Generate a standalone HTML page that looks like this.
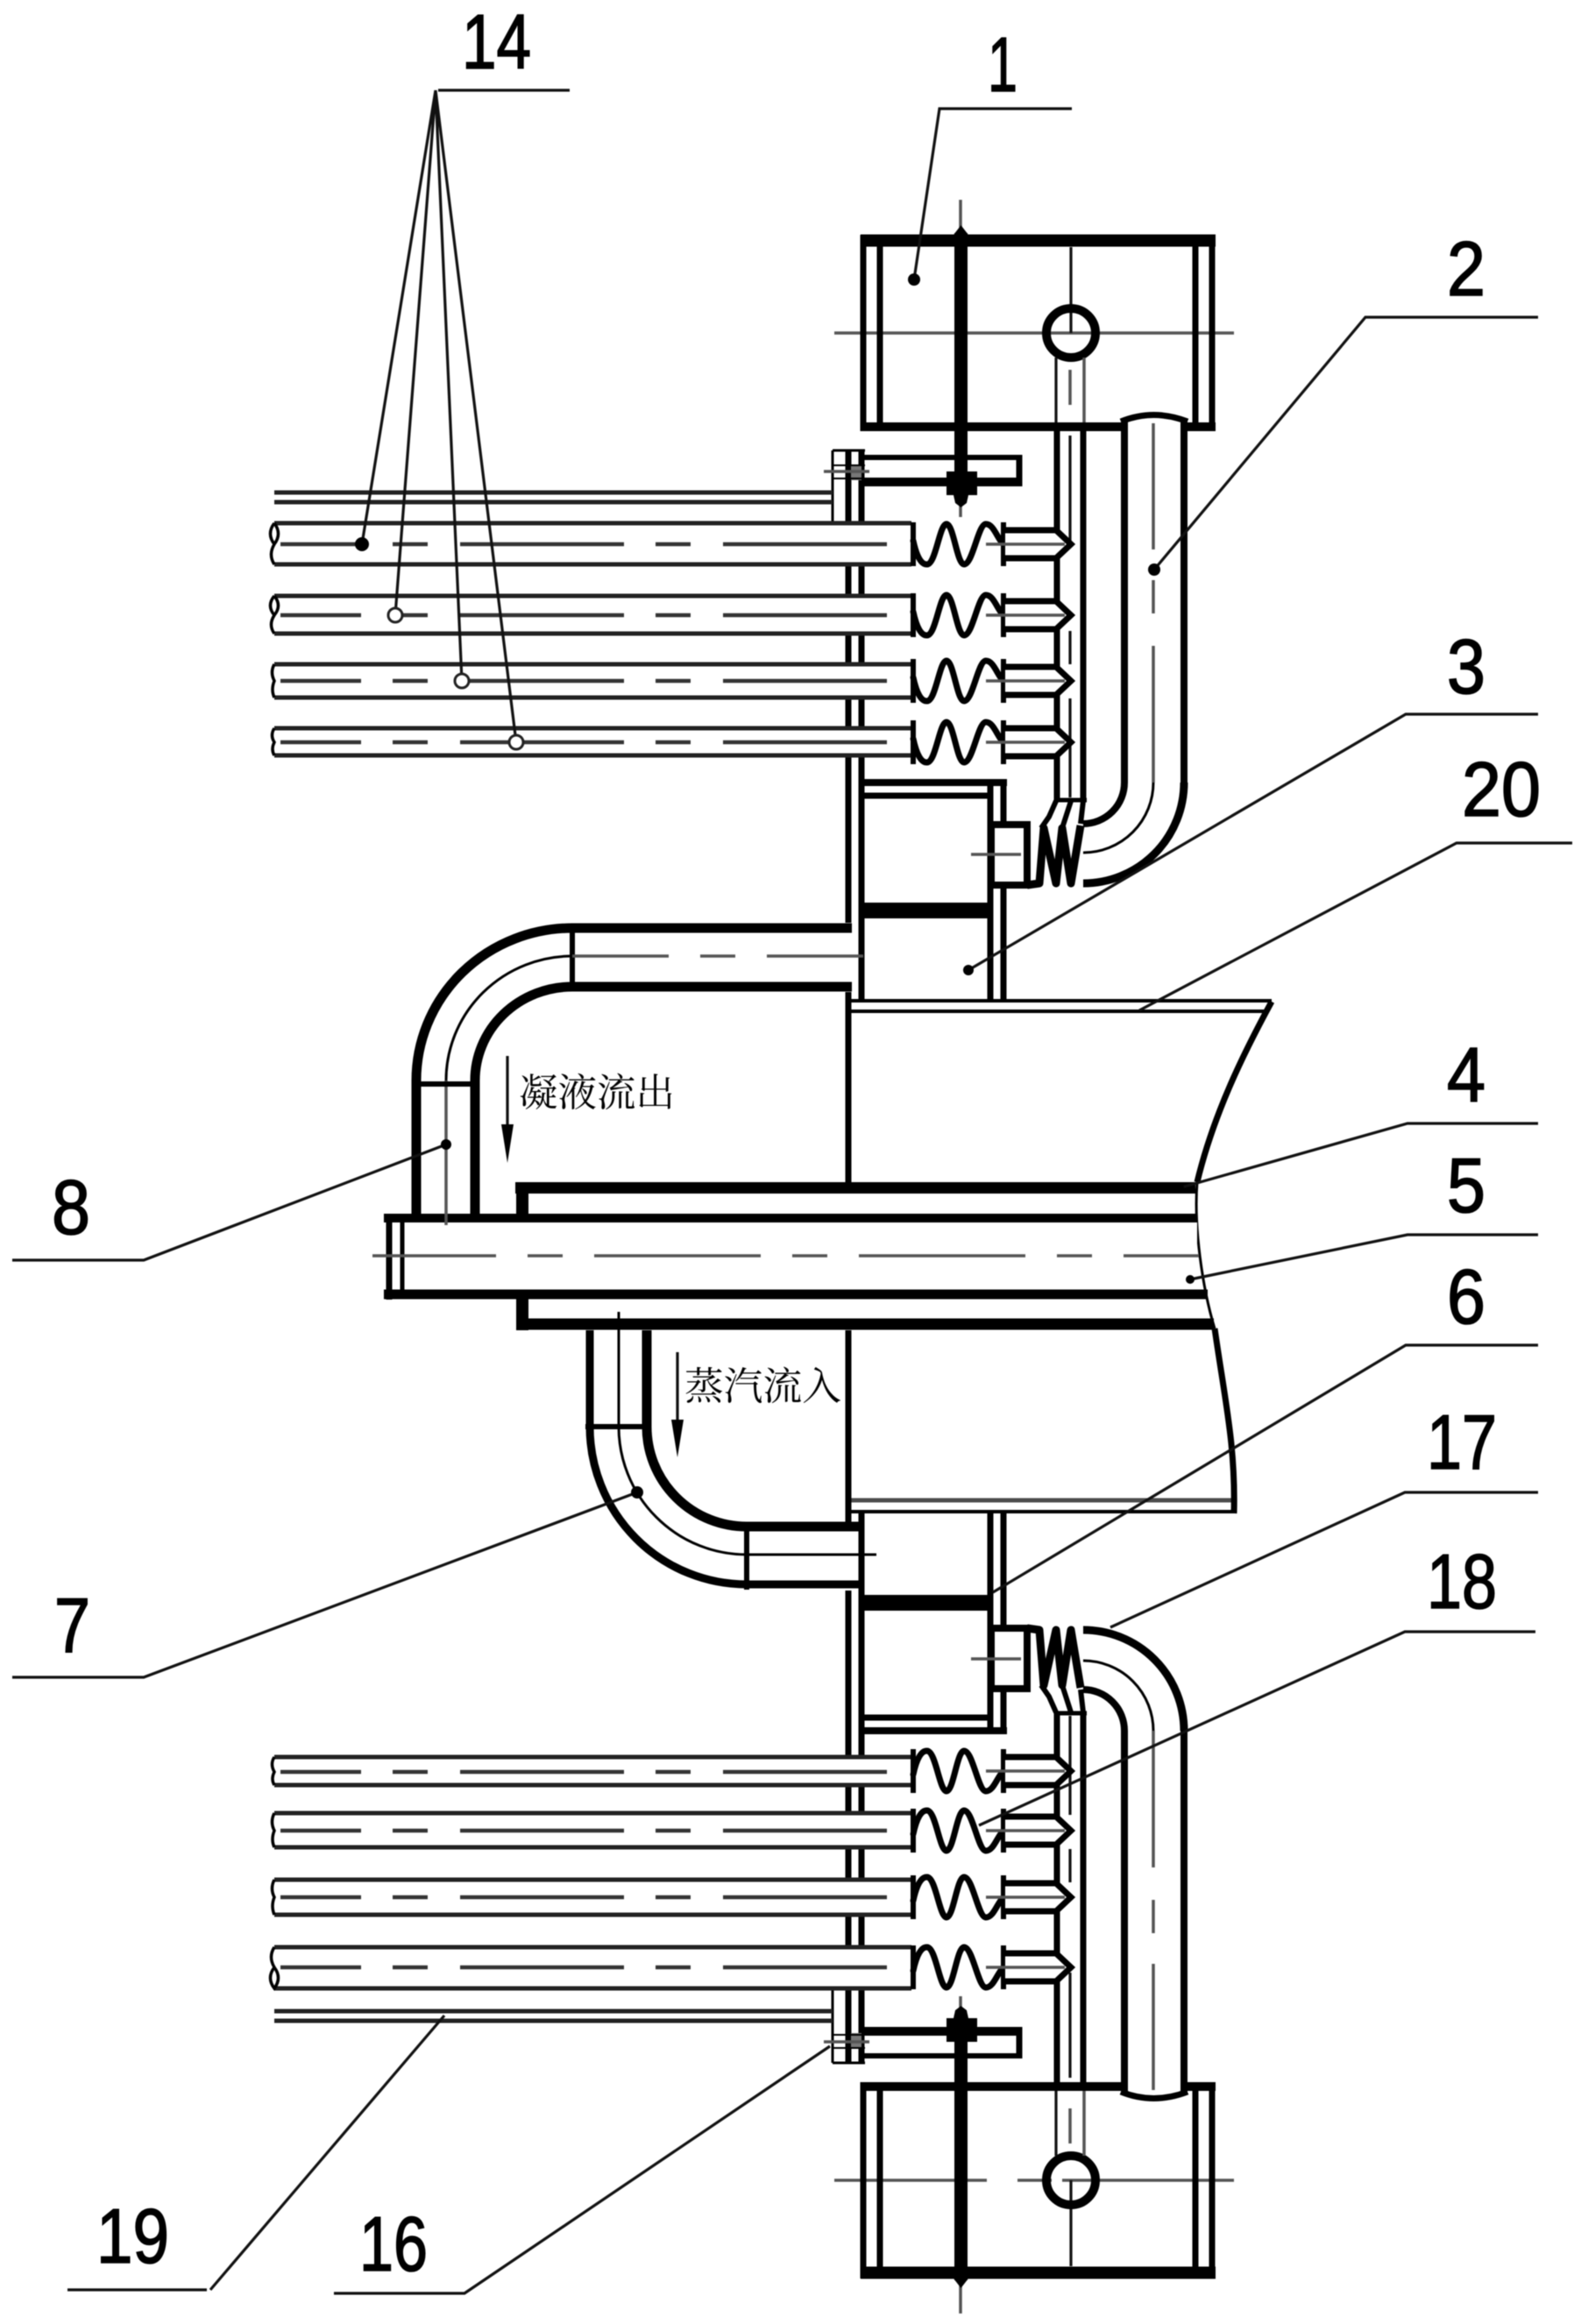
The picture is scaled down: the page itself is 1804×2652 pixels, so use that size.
<!DOCTYPE html>
<html lang="zh"><head><meta charset="utf-8"><style>
html,body{margin:0;padding:0;background:#fff}
svg{display:block}
.k{stroke:#000;fill:none}
.g{stroke:#555;stroke-width:3.5;fill:none}
.l{stroke:#111;stroke-width:3.2;fill:none}
.d{font-family:"Liberation Sans",sans-serif;fill:#000;stroke:#000;stroke-width:1.6}
.c{font-family:"Liberation Serif","Noto Serif CJK SC",serif;font-size:44px;fill:#000}
.tl{stroke:#222;stroke-width:5}
.cl{stroke:#333;stroke-width:4.5;stroke-dasharray:187 36 40 37;stroke-dashoffset:95}
</style></head><body>
<svg width="1804" height="2652" viewBox="0 0 1804 2652" xmlns="http://www.w3.org/2000/svg">
<rect width="1804" height="2652" fill="#fff"/>
<defs>
<g id="half">
  <!-- block -->
  <line class="g" x1="952" y1="380" x2="1408" y2="380"/>
  <line class="k" stroke-width="14" x1="982" y1="274.500" x2="1387" y2="274.500"/>
  <line class="k" stroke-width="10" x1="982" y1="487" x2="1387" y2="487"/>
  <line class="k" stroke-width="7" x1="985" y1="268" x2="985" y2="492"/>
  <line class="k" stroke-width="7" x1="1004" y1="275" x2="1004" y2="487"/>
  <line class="k" stroke-width="7" x1="1364" y1="275" x2="1364" y2="487"/>
  <line class="k" stroke-width="7" x1="1383" y1="268" x2="1383" y2="492"/>
  <line class="l" x1="1222" y1="282" x2="1222" y2="380"/>
  <circle class="k" stroke-width="10" cx="1222" cy="380" r="28"/>
  <line class="l" x1="1205" y1="408" x2="1205" y2="482"/>
  <line class="g" x1="1237" y1="408" x2="1237" y2="482"/>
  <line class="g" x1="1221" y1="422" x2="1221" y2="462"/>
  <!-- bolt -->
  <line class="g" x1="1096" y1="228" x2="1096" y2="260"/>
  <line class="g" x1="1096" y1="575" x2="1096" y2="590"/>
  <line class="k" stroke-width="15" x1="1096.500" y1="266" x2="1096.500" y2="560"/>
  <polygon points="1088,268 1096.500,257 1105,268" fill="#000"/>
  <!-- thin plate and upper lines -->
  <line class="k" stroke-width="3" x1="950" y1="514" x2="950" y2="600"/>
  <line class="k" stroke-width="3" x1="950" y1="514" x2="987" y2="514"/>
  <line class="k" stroke-width="7" x1="968" y1="514" x2="968" y2="1053"/>
  <line class="k" stroke-width="7" x1="983" y1="514" x2="983" y2="1142"/>
  <rect x="971" y="530" width="12" height="18" fill="#777"/>
  <line class="k" stroke-width="2" x1="950" y1="531" x2="987" y2="531"/>
  <line class="k" stroke-width="2" x1="950" y1="546" x2="987" y2="546"/>
  <line class="g" x1="940" y1="538" x2="992" y2="538"/>
  <line class="tl" x1="313" y1="562" x2="950" y2="562"/>
  <line class="tl" x1="313" y1="573" x2="950" y2="573"/>
  <!-- bracket -->
  <line class="k" stroke-width="6" x1="985" y1="522" x2="1166" y2="522"/>
  <line class="k" stroke-width="10" x1="985" y1="550" x2="1166" y2="550"/>
  <line class="k" stroke-width="7" x1="1163" y1="519" x2="1163" y2="555"/>
  <rect x="1080" y="538" width="35" height="27" fill="#000"/>
  <polygon points="1088,565 1105,565 1103,574 1096.500,579 1090,574" fill="#000"/>
  <!-- steam pipe pair -->
  <line class="k" stroke-width="7" x1="1206" y1="490" x2="1206" y2="915"/>
  <line class="k" stroke-width="7" x1="1236" y1="490" x2="1236" y2="915"/>
  <line class="k" stroke-width="5" x1="1203" y1="913" x2="1240" y2="913"/>
  <line class="l" x1="1221" y1="497" x2="1221" y2="617"/>
  <line class="l" x1="1221" y1="720" x2="1221" y2="758"/>
  <line class="l" x1="1221" y1="797" x2="1221" y2="910"/>
  <!-- pipe 2 -->
  <path d="M1279 481 Q1316 466 1355 481 L1351 500 H1283 Z" fill="#fff" stroke="none"/>
  <path class="k" stroke-width="7" d="M1279 481 Q1316 466 1355 481"/>
  <line class="k" stroke-width="8" x1="1283" y1="478" x2="1283" y2="893"/>
  <line class="k" stroke-width="8" x1="1351" y1="478" x2="1351" y2="893"/>
  <path class="k" stroke-width="9" d="M1351 893 A115 115 0 0 1 1236 1008"/>
  <path class="k" stroke-width="8" d="M1283 893 A47 47 0 0 1 1236 940"/>
  <path class="k" stroke-width="3" d="M1316 893 A80 80 0 0 1 1236 973"/>
  <line class="g" x1="1316" y1="483" x2="1316" y2="627"/>
  <line class="g" x1="1316" y1="662" x2="1316" y2="700"/>
  <line class="g" x1="1316" y1="737" x2="1316" y2="893"/>
  <!-- box -->
  <line class="k" stroke-width="8" x1="983" y1="893" x2="1149" y2="893"/>
  <line class="k" stroke-width="7" x1="983" y1="908" x2="1131" y2="908"/>
  <line class="k" stroke-width="7" x1="1130" y1="893" x2="1130" y2="1143"/>
  <line class="k" stroke-width="7" x1="1145" y1="893" x2="1145" y2="1143"/>
  <rect x="983" y="1030" width="148" height="18" fill="#000"/>
  <!-- small nut -->
  <rect x="1131" y="941" width="41" height="69" fill="#fff" stroke="#000" stroke-width="8"/>
  <line class="g" x1="1108" y1="975" x2="1165" y2="975"/>
  <!-- small bellows -->
  <path class="k" stroke-width="9" stroke-linejoin="round" d="M1172 1010 L1186 1008 L1191 945 L1205 1008 L1212 945 L1222 1008 L1233 942"/>
  <path class="k" stroke-width="6" d="M1205 914 L1197 932 L1188 945 M1222 914 L1212 945 M1236 914 L1233 940"/>
</g>
<g id="bel">
  <path class="k" stroke-width="7" stroke-linecap="round" d="M1042 -4 Q1048 24 1058 23 C1068 22 1072 -23 1080 -23 C1088 -23 1092 23 1100 23 C1110 23 1116 -23 1125 -23 C1134 -23 1138 -6 1145 0"/>
  <line class="k" stroke-width="6" x1="1042" y1="-25" x2="1042" y2="25"/>
  <line class="k" stroke-width="6" x1="1145" y1="-25" x2="1145" y2="25"/>
  <path d="M1147 -16 H1205 L1222 0 L1205 16 H1147" fill="#fff" stroke="#000" stroke-width="7"/>
  <line class="g" x1="1125" y1="0" x2="1215" y2="0"/>
</g>
</defs>

<g style="filter:blur(.6px)">
<use href="#half"/>
<use href="#half" transform="matrix(1 0 0 -1 0 2868)"/>
<line x1="1126" y1="2487" x2="1161" y2="2487" stroke="#fff" stroke-width="6"/>
<line x1="1200" y1="2487" x2="1212" y2="2487" stroke="#fff" stroke-width="6"/>

<!-- shell -->
<line class="k" stroke-width="7" x1="968" y1="1132" x2="968" y2="1349"/>
<line class="k" stroke-width="7" x1="968" y1="1518" x2="968" y2="1742"/>
<line class="k" stroke-width="4" x1="968" y1="1142" x2="1451" y2="1142"/>
<line class="k" stroke-width="4" x1="968" y1="1154" x2="1445" y2="1154"/>
<line class="k" stroke-width="5" stroke-opacity=".7" x1="968" y1="1712" x2="1408" y2="1712"/>
<line class="k" stroke-width="4" x1="968" y1="1725" x2="1408" y2="1725"/>
<path class="k" stroke-width="7" d="M1451 1143 C1420 1200 1385 1270 1366 1349"/>
<path class="k" stroke-width="3" d="M1366 1349 C1362 1400 1372 1470 1386 1516"/>
<path class="k" stroke-width="7" d="M1386 1516 C1398 1600 1410 1650 1408 1727"/>

<!-- central tubes -->
<line class="k" stroke-width="13" x1="588" y1="1355.500" x2="1364" y2="1355.500"/>
<line class="k" stroke-width="14" x1="596" y1="1349" x2="596" y2="1395"/>
<line class="k" stroke-width="14" x1="596" y1="1477" x2="596" y2="1518"/>
<line class="k" stroke-width="13" x1="589" y1="1511" x2="1385" y2="1511"/>
<rect x="441" y="1385" width="925" height="97" fill="#fff"/>
<line class="k" stroke-width="10" x1="438" y1="1390" x2="1366" y2="1390"/>
<line class="k" stroke-width="11" x1="438" y1="1477" x2="1378" y2="1477"/>
<line class="k" stroke-width="7" x1="444" y1="1385" x2="444" y2="1483"/>
<line class="k" stroke-width="5" x1="459" y1="1390" x2="459" y2="1477"/>
<line class="g" x1="425" y1="1433" x2="1368" y2="1433" style="stroke-dasharray:190 36 40 36;stroke-dashoffset:49"/>

<!-- pipe 8 -->
<rect x="653" y="1059" width="315" height="67" fill="#fff"/>
<path class="k" stroke-width="11" d="M653 1059 H972"/>
<path class="k" stroke-width="11" d="M653 1126 H972"/>
<line class="k" stroke-width="6" x1="653" y1="1054" x2="653" y2="1131"/>
<line class="g" x1="653" y1="1091" x2="995" y2="1091" style="stroke-dasharray:110 36 40 36 110"/>
<path class="k" stroke-width="11" d="M653 1059 A178 174 0 0 0 475 1233 V1392"/>
<path class="k" stroke-width="11" d="M653 1126 A111 107 0 0 0 542 1233 V1392"/>
<path class="k" stroke-width="3" d="M653 1091 A144 142 0 0 0 509 1233"/>
<line class="g" x1="509" y1="1233" x2="509" y2="1398"/>
<line class="k" stroke-width="6" x1="475" y1="1237" x2="542" y2="1237"/>
<line class="l" x1="579" y1="1205" x2="579" y2="1290"/>
<polygon points="572,1283 586,1283 579,1327" fill="#000"/>
<text class="c" x="592" y="1262" textLength="178" lengthAdjust="spacingAndGlyphs">凝液流出</text>

<!-- pipe 7 -->
<path class="k" stroke-width="9" d="M673 1518 V1628 A179 180 0 0 0 852 1808 H985"/>
<path class="k" stroke-width="11" d="M738 1518 V1628 A114 114 0 0 0 852 1742 H985"/>
<path class="k" stroke-width="3" d="M706 1497 V1628 A146 146 0 0 0 852 1774 H1000"/>
<line class="k" stroke-width="6" x1="668" y1="1628" x2="743" y2="1628"/>
<line class="k" stroke-width="6" x1="852" y1="1738" x2="852" y2="1814"/>
<line class="k" stroke-width="6" x1="983" y1="1724" x2="983" y2="1815"/>
<line class="l" x1="773" y1="1543" x2="773" y2="1625"/>
<polygon points="766,1620 780,1620 773,1663" fill="#000"/>
<text class="c" x="781" y="1597" textLength="179" lengthAdjust="spacingAndGlyphs">蒸汽流入</text>

<!-- tube rows -->
<g fill="#fff">
<rect x="313" y="597" width="727" height="47"/><rect x="313" y="680" width="727" height="43"/>
<rect x="313" y="758" width="727" height="38"/><rect x="313" y="831" width="727" height="31"/>
<rect x="313" y="2005" width="727" height="32"/><rect x="313" y="2069" width="727" height="39"/>
<rect x="313" y="2145" width="727" height="40"/><rect x="313" y="2222" width="727" height="47"/>
</g>
<g class="tl">
<line x1="313" y1="597" x2="1040" y2="597"/><line x1="313" y1="644" x2="1040" y2="644"/>
<line x1="313" y1="680" x2="1040" y2="680"/><line x1="313" y1="723" x2="1040" y2="723"/>
<line x1="313" y1="758" x2="1040" y2="758"/><line x1="313" y1="796" x2="1040" y2="796"/>
<line x1="313" y1="831" x2="1040" y2="831"/><line x1="313" y1="862" x2="1040" y2="862"/>
<line x1="313" y1="2005" x2="1040" y2="2005"/><line x1="313" y1="2037" x2="1040" y2="2037"/>
<line x1="313" y1="2069" x2="1040" y2="2069"/><line x1="313" y1="2108" x2="1040" y2="2108"/>
<line x1="313" y1="2145" x2="1040" y2="2145"/><line x1="313" y1="2185" x2="1040" y2="2185"/>
<line x1="313" y1="2222" x2="1040" y2="2222"/><line x1="313" y1="2269" x2="1040" y2="2269"/>
</g>
<g class="cl">
<line x1="320" y1="621" x2="1012" y2="621"/><line x1="320" y1="702" x2="1012" y2="702"/>
<line x1="320" y1="777" x2="1012" y2="777"/><line x1="320" y1="847" x2="1012" y2="847"/>
<line x1="320" y1="2022" x2="1012" y2="2022"/><line x1="320" y1="2089" x2="1012" y2="2089"/>
<line x1="320" y1="2165" x2="1012" y2="2165"/><line x1="320" y1="2245" x2="1012" y2="2245"/>
</g>
<!-- broken ends -->
<g class="k" stroke-width="3.500">
<path d="M313 597 Q304 609 313 621 Q322 609 313 597 M313 621 Q306 633 313 644"/>
<path d="M313 680 Q304 691 313 702 Q322 691 313 680 M313 702 Q306 713 313 723"/>
<path d="M313 758 Q308 767 313 777 Q309 787 313 796"/>
<path d="M313 831 Q308 839 313 847 Q309 855 313 862"/>
<path d="M313 2005 Q308 2013 313 2022 Q309 2030 313 2037"/>
<path d="M313 2069 Q308 2079 313 2089 Q309 2099 313 2108"/>
<path d="M313 2145 Q308 2155 313 2165 Q309 2175 313 2185"/>
<path d="M313 2222 Q306 2233 313 2245 Q304 2257 313 2269 Q322 2257 313 2245"/>
</g>
<!-- bellows and fittings -->
<use href="#bel" transform="translate(0 621)"/>
<use href="#bel" transform="translate(0 702)"/>
<use href="#bel" transform="translate(0 777)"/>
<use href="#bel" transform="translate(0 847)"/>
<use href="#bel" transform="matrix(1 0 0 -1 0 2021)"/>
<use href="#bel" transform="matrix(1 0 0 -1 0 2089)"/>
<use href="#bel" transform="matrix(1 0 0 -1 0 2165)"/>
<use href="#bel" transform="matrix(1 0 0 -1 0 2245)"/>

<!-- leaders -->
<g class="l">
<path d="M500 103 H650"/>
<path d="M497 103 L413 621 M497 103 L451 702 M497 103 L527 777 M497 103 L589 847"/>
<path d="M1223 124 H1072 L1043 319"/>
<path d="M1755 362 H1558 L1317 650"/>
<path d="M1755 815 H1604 L1105 1107"/>
<path d="M1794 962 H1662 L1300 1153"/>
<path d="M1755 1282 H1606 L1348 1355"/>
<path d="M1755 1409 H1606 L1358 1460"/>
<path d="M1755 1535 H1604 L1133 1817"/>
<path d="M1755 1703 H1603 L1267 1857"/>
<path d="M1752 1862 H1603 L1117 2083"/>
<path d="M14 1438 H164 L509 1306"/>
<path d="M14 1914 H164 L727 1703"/>
<path d="M77 2613 H236"/>
<path d="M240 2613 L507 2300"/>
<path d="M381 2617 H530 L947 2335"/>
</g>
<g fill="#000">
<circle cx="413" cy="621" r="8"/>
<circle cx="1043" cy="319" r="7"/><circle cx="1317" cy="650" r="7"/>
<circle cx="1105" cy="1107" r="6"/><circle cx="509" cy="1306" r="6"/>
<circle cx="727" cy="1703" r="7"/><circle cx="1348" cy="1355" r="3"/><circle cx="1358" cy="1460" r="5"/>
</g>
<g fill="#fff" stroke="#222" stroke-width="3">
<circle cx="451" cy="702" r="8"/><circle cx="527" cy="777" r="8"/><circle cx="589" cy="847" r="8"/>
</g>

<!-- labels -->
<g class="d" font-size="88">
<text x="527" y="78" textLength="79" lengthAdjust="spacingAndGlyphs">14</text>
<text x="1127" y="104" textLength="34" lengthAdjust="spacingAndGlyphs">1</text>
<text x="1651" y="337" textLength="44" lengthAdjust="spacingAndGlyphs">2</text>
<text x="1651" y="791" textLength="44" lengthAdjust="spacingAndGlyphs">3</text>
<text x="1668" y="931" textLength="90" lengthAdjust="spacingAndGlyphs">20</text>
<text x="1651" y="1257" textLength="44" lengthAdjust="spacingAndGlyphs">4</text>
<text x="1651" y="1383" textLength="44" lengthAdjust="spacingAndGlyphs">5</text>
<text x="1651" y="1510" textLength="44" lengthAdjust="spacingAndGlyphs">6</text>
<text x="1628" y="1676" textLength="80" lengthAdjust="spacingAndGlyphs">17</text>
<text x="1628" y="1835" textLength="80" lengthAdjust="spacingAndGlyphs">18</text>
<text x="59" y="1408" textLength="44" lengthAdjust="spacingAndGlyphs">8</text>
<text x="62" y="1885" textLength="41" lengthAdjust="spacingAndGlyphs">7</text>
<text x="110" y="2582" textLength="83" lengthAdjust="spacingAndGlyphs">19</text>
<text x="410" y="2591" textLength="78" lengthAdjust="spacingAndGlyphs">16</text>
</g>
</g>
</svg>
</body></html>
